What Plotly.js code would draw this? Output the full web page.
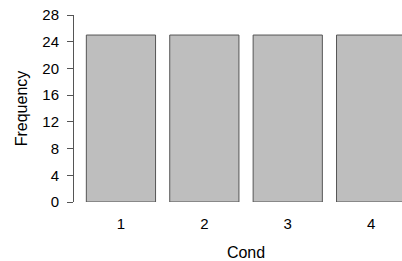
<!DOCTYPE html>
<html>
<head>
<script src="https://cdn.plot.ly/plotly-3.0.1.min.js"></script>
<style>html,body{margin:0;padding:0;overflow:hidden;background:#fff;}#chart{width:420px;height:261px;}</style>
</head>
<body>
<div id="chart"></div>
<script>
var categories = [1, 2, 3, 4];
var frequency = [25, 25, 25, 25];
var yTicks = [0, 4, 8, 12, 16, 20, 24, 28];

var trace = {
  type: 'bar',
  x: categories,
  y: frequency,
  width: 0.83,
  marker: {color: '#bebebe', line: {color: '#555555', width: 1}},
  hoverinfo: 'skip'
};

var layout = {
  width: 420,
  height: 261,
  margin: {l: 74, r: 2, t: 15, b: 59},
  paper_bgcolor: '#ffffff',
  plot_bgcolor: '#ffffff',
  showlegend: false,
  font: {family: 'Liberation Sans, Arial, sans-serif', size: 15, color: '#000000'},
  xaxis: {
    range: [0.437, 4.562],
    tickvals: categories,
    ticktext: categories.map(String),
    ticks: 'outside',
    ticklen: 8,
    tickcolor: 'rgba(0,0,0,0)',
    showline: false,
    showgrid: false,
    zeroline: false,
    tickfont: {size: 15},
    title: {text: 'Cond', font: {size: 16}, standoff: 15}
  },
  yaxis: {
    range: [0, 28],
    tickvals: yTicks,
    ticktext: yTicks.map(String),
    ticks: 'outside',
    ticklen: 6,
    tickwidth: 1,
    tickcolor: '#555555',
    ticklabelstandoff: 5,
    showline: true,
    linecolor: '#555555',
    linewidth: 1,
    showgrid: false,
    zeroline: false,
    tickfont: {size: 15},
    title: {text: 'Frequency', font: {size: 16}, standoff: 10}
  }
};

Plotly.newPlot('chart', [trace], layout, {staticPlot: true, displayModeBar: false});
</script>
</body>
</html>
